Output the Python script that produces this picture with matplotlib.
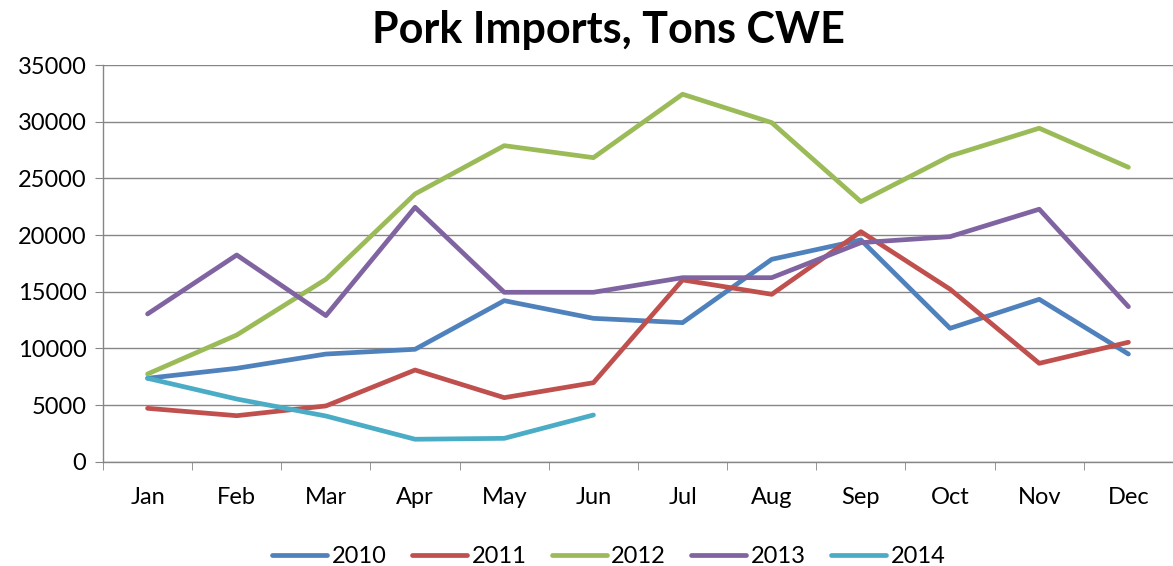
import numpy as np
import matplotlib.pyplot as plt

plt.rcParams['font.family'] = ['Lato', 'DejaVu Sans']

months = ["Jan", "Feb", "Mar", "Apr", "May", "Jun",
          "Jul", "Aug", "Sep", "Oct", "Nov", "Dec"]

y2010 = [7360, 8240, 9500, 9920, 14210, 12650, 12270, 17860, 19570, 11770, 14330, 9500]
y2011 = [4710, 4060, 4920, 8090, 5650, 6970, 16040, 14770, 20300, 15220, 8680, 10540]
y2012 = [7740, 11180, 16100, 23630, 27890, 26830, 32430, 29920, 22950, 26980, 29430, 25980]
y2013 = [13040, 18240, 12890, 22450, 14950, 14950, 16240, 16240, 19330, 19860, 22280, 13680]
y2014 = [7360, 5530, 4030, 1980, 2060, 4120]

series = [("2010", y2010, "#4F81BD"),
          ("2011", y2011, "#C0504D"),
          ("2012", y2012, "#9BBB59"),
          ("2013", y2013, "#8064A2"),
          ("2014", y2014, "#4BACC6")]

fig = plt.figure(figsize=(11.73, 5.66), dpi=100)
ax = fig.add_axes([0.0878, 0.1843, 0.9122, 0.7007])

x = np.arange(len(months))
for name, vals, col in series:
    ax.plot(x[:len(vals)], vals, color=col, lw=3.4, label=name, solid_capstyle='round')

ax.set_ylim(0, 35000)
ax.set_yticks(np.arange(0, 35001, 5000))
ax.set_xlim(-0.5, 11.4)
ax.set_xticks(x)
ax.set_xticklabels(months)
ax.set_xticks(np.arange(-0.5, 12, 1), minor=True)

ax.grid(axis='y', color='#868686', lw=1)
ax.set_axisbelow(True)
for s in ['top', 'right']:
    ax.spines[s].set_visible(False)
for s in ['left', 'bottom']:
    ax.spines[s].set_color('#868686')
    ax.spines[s].set_linewidth(1)

ax.tick_params(axis='y', length=6, color='#868686', labelsize=17, pad=6)
ax.tick_params(axis='x', which='major', length=0, labelsize=17, pad=18)
ax.tick_params(axis='x', which='minor', length=6, color='#868686')

# title and legend centred on the chart area
fig.text(0.519, 0.924, "Pork Imports, Tons CWE", fontsize=31, fontweight='bold',
         ha='center', va='baseline')

fig.legend(*ax.get_legend_handles_labels(), loc='center', bbox_to_anchor=(0.519, 0.016),
           ncol=5, frameon=False, fontsize=17, handlelength=2.33,
           columnspacing=1.06, handletextpad=0.2, borderaxespad=0)

fig.savefig("out.png", dpi=100)
